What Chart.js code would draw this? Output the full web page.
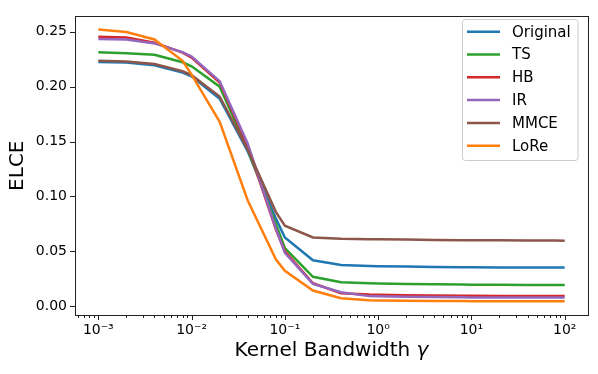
<!DOCTYPE html>
<html>
<head>
<meta charset="utf-8">
<script src="https://cdn.jsdelivr.net/npm/chart.js@4/dist/chart.umd.min.js"></script>
<style>
  html, body { margin: 0; padding: 0; background: #fff; }
</style>
</head>
<body>
<canvas id="elceChart" width="598" height="374"></canvas>
<script>
// kernel bandwidth values (x axis, log scale)
const bandwidths = [0.001, 0.002, 0.004, 0.008, 0.01, 0.02, 0.04, 0.08, 0.1, 0.2, 0.4, 0.8,
                    1, 2, 4, 8, 10, 20, 40, 80, 100];

// ELCE per method
const original = [0.2224, 0.2221, 0.2194, 0.2128, 0.2095, 0.1890, 0.1410, 0.0800, 0.0626, 0.0418, 0.0376, 0.0367,
                  0.0365, 0.0362, 0.0358, 0.0355, 0.0354, 0.0353, 0.0352, 0.0352, 0.0352];
const ts       = [0.2314, 0.2305, 0.2290, 0.2222, 0.2185, 0.2000, 0.1430, 0.0750, 0.0530, 0.0268, 0.0218, 0.0209,
                  0.0207, 0.0203, 0.0200, 0.0197, 0.0196, 0.0195, 0.0194, 0.0194, 0.0194];
const hb       = [0.2454, 0.2448, 0.2400, 0.2310, 0.2265, 0.2037, 0.1460, 0.0700, 0.0500, 0.0209, 0.0119, 0.0107,
                  0.0105, 0.0101, 0.0098, 0.0096, 0.0095, 0.0094, 0.0093, 0.0092, 0.0092];
const ir       = [0.2433, 0.2430, 0.2394, 0.2315, 0.2275, 0.2050, 0.1480, 0.0710, 0.0486, 0.0203, 0.0128, 0.0092,
                  0.0090, 0.0086, 0.0083, 0.0081, 0.0080, 0.0080, 0.0080, 0.0080, 0.0080];
const mmce     = [0.2236, 0.2230, 0.2207, 0.2140, 0.2105, 0.1910, 0.1425, 0.0860, 0.0733, 0.0626, 0.0615, 0.0611,
                  0.0610, 0.0607, 0.0604, 0.0602, 0.0601, 0.0600, 0.0599, 0.0598, 0.0597];
const lore     = [0.2520, 0.2498, 0.2430, 0.2236, 0.2110, 0.1680, 0.0963, 0.0427, 0.0322, 0.0143, 0.0072, 0.0054,
                  0.0052, 0.0050, 0.0048, 0.0047, 0.0046, 0.0046, 0.0045, 0.0045, 0.0045];

const seriesNames = ['Original', 'TS', 'HB', 'IR', 'MMCE', 'LoRe'];
const seriesData = [original, ts, hb, ir, mmce, lore];
const seriesColors = ['#1f77b4', '#2ca02c', '#d62728', '#9467bd', '#8c564b', '#ff7f0e'];

const yTicks = [0, 0.05, 0.10, 0.15, 0.20, 0.25];
const xDecades = [-3, -2, -1, 0, 1, 2];

const FONT = "'DejaVu Sans', sans-serif";
const SUP = { '-': '\u207b', '0': '\u2070', '1': '\u00b9', '2': '\u00b2', '3': '\u00b3' };
const supText = n => String(n).split('').map(c => SUP[c]).join('');

// spines, tick marks, x label (italic gamma) and legend, drawn the matplotlib way
const axesDecor = {
  id: 'axesDecor',
  afterDraw(chart) {
    const ctx = chart.ctx;
    const a = chart.chartArea;
    const xs = chart.scales.x, ys = chart.scales.y;
    ctx.save();
    ctx.strokeStyle = '#222';
    ctx.lineWidth = 1;

    // x ticks: majors and log minors
    ctx.beginPath();
    for (let e = -4; e <= 2; e++) {
      for (let m = 1; m <= 9; m++) {
        const v = m * Math.pow(10, e);
        if (v < xs.min || v > xs.max) continue;
        const px = Math.round(xs.getPixelForValue(v)) + 0.5;
        const len = m === 1 ? 5 : 3;
        ctx.moveTo(px, a.bottom);
        ctx.lineTo(px, a.bottom + len);
      }
    }
    yTicks.forEach(v => {
      const py = Math.round(ys.getPixelForValue(v)) + 0.5;
      ctx.moveTo(a.left, py);
      ctx.lineTo(a.left - 5, py);
    });
    ctx.stroke();

    ctx.strokeRect(Math.round(a.left) + 0.5, Math.round(a.top) + 0.5,
                   Math.round(a.right - a.left), Math.round(a.bottom - a.top));

    // x axis label
    const plain = 'Kernel Bandwidth ', greek = '\u03b3';
    ctx.fillStyle = '#000';
    ctx.textBaseline = 'middle';
    ctx.textAlign = 'left';
    ctx.font = '20px ' + FONT;
    const w1 = ctx.measureText(plain).width;
    ctx.font = 'italic 20px ' + FONT;
    const w2 = ctx.measureText(greek).width;
    const x0 = (a.left + a.right) / 2 - (w1 + w2) / 2;
    ctx.font = '20px ' + FONT;
    ctx.fillText(plain, x0, 351);
    ctx.font = 'italic 20px ' + FONT;
    ctx.fillText(greek, x0 + w1, 351);

    // legend box
    const bx = 462.5, by = 19.5, bw = 115.5, bh = 141, r = 3;
    ctx.beginPath();
    ctx.moveTo(bx + r, by);
    ctx.arcTo(bx + bw, by, bx + bw, by + bh, r);
    ctx.arcTo(bx + bw, by + bh, bx, by + bh, r);
    ctx.arcTo(bx, by + bh, bx, by, r);
    ctx.arcTo(bx, by, bx + bw, by, r);
    ctx.closePath();
    ctx.fillStyle = 'rgba(255,255,255,0.8)';
    ctx.fill();
    ctx.strokeStyle = '#cccccc';
    ctx.stroke();

    ctx.font = '15px ' + FONT;
    seriesNames.forEach((name, i) => {
      const ry = 31.7 + i * 22.8;
      ctx.strokeStyle = seriesColors[i];
      ctx.lineWidth = 2.5;
      ctx.beginPath();
      ctx.moveTo(467, ry);
      ctx.lineTo(500, ry);
      ctx.stroke();
      ctx.fillStyle = '#000';
      ctx.fillText(name, 512, ry + 1);
    });
    ctx.restore();
  }
};

new Chart(document.getElementById('elceChart'), {
  type: 'line',
  data: {
    datasets: seriesNames.map((name, i) => ({
      label: name,
      data: bandwidths.map((b, j) => ({ x: b, y: seriesData[i][j] })),
      borderColor: seriesColors[i],
      backgroundColor: seriesColors[i],
      borderWidth: 2.5,
      pointRadius: 0,
      tension: 0,
      fill: false,
      order: seriesNames.length - i
    }))
  },
  options: {
    responsive: false,
    animation: false,
    devicePixelRatio: 1,
    layout: { padding: { top: 11, right: 10, left: 0, bottom: 0 } },
    plugins: { legend: { display: false }, tooltip: { enabled: false } },
    scales: {
      x: {
        type: 'logarithmic',
        min: Math.pow(10, -3.25),
        max: Math.pow(10, 2.25),
        grid: { display: false, drawTicks: false },
        border: { display: false },
        afterBuildTicks: s => { s.ticks = xDecades.map(e => ({ value: Math.pow(10, e) })); },
        afterFit: s => { s.height = 59; },
        ticks: {
          autoSkip: false,
          maxRotation: 0,
          padding: 7,
          color: '#000',
          font: { family: FONT, size: 14 },
          callback: v => '10' + supText(Math.round(Math.log10(v)))
        },
        title: { display: false }
      },
      y: {
        min: -0.008,
        max: 0.264,
        grid: { display: false, drawTicks: false },
        border: { display: false },
        afterBuildTicks: s => { s.ticks = yTicks.map(v => ({ value: v })); },
        afterFit: s => { s.width = 75; },
        ticks: {
          padding: 8,
          color: '#000',
          font: { family: FONT, size: 14 },
          callback: v => v.toFixed(2)
        },
        title: {
          display: true,
          text: 'ELCE',
          color: '#000',
          font: { family: FONT, size: 20 },
          padding: { top: 6, bottom: 0 }
        }
      }
    }
  },
  plugins: [axesDecor]
});
</script>
</body>
</html>
